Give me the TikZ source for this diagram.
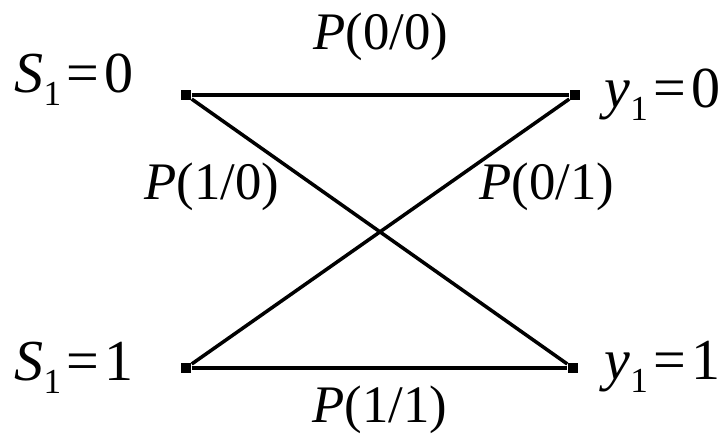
\documentclass[tikz,border=0pt]{standalone}
\usepackage{fontspec}
\setmainfont{Liberation Serif}
\newcommand{\sub}[1]{\raisebox{-0.5ex}{\fontsize{10}{10}\selectfont #1}}

\begin{document}
\begin{tikzpicture}[x=0.01cm,y=-0.01cm,dot/.style={rectangle,fill=black,minimum size=0.1cm,inner sep=0pt},state/.style={inner sep=0pt,font=\fontsize{16.5}{18}\selectfont},prob/.style={inner sep=0pt,font=\fontsize{15}{16}\selectfont},wire/.style={line width=1.4pt},cross/.style={line width=1pt}]
\useasboundingbox (0,0) rectangle (727,438);
\node[dot] (a0) at (186,95) {};\node[dot] (b0) at (575,95) {};
\node[dot] (a1) at (186,368) {};\node[dot] (b1) at (573,368) {};
\node[state,anchor=west] (s0) at (14,80) {\textit{S}\sub{1}\kern1.5pt=\kern1.5pt0};\node[state,anchor=east] (y0) at (721,95) {\textit{y}\sub{1}\kern1.5pt=\kern1.5pt0};
\node[state,anchor=west] (s1) at (14,368) {\textit{S}\sub{1}\kern1.5pt=\kern1.5pt1};\node[state,anchor=east] (y1) at (721,367) {\textit{y}\sub{1}\kern1.5pt=\kern1.5pt1};
\draw[wire] (a0) -- (b0);\draw[wire] (a1) -- (b1);
\draw[cross] (a0) -- (b1);\draw[cross] (a1) -- (b0);
\node[prob] (p00) at (381,37) {\textit{P}(0/0)};
\node[prob] (p10) at (212,187) {\textit{P}(1/0)};
\node[prob] (p01) at (547,187) {\textit{P}(0/1)};
\node[prob] (p11) at (380,410) {\textit{P}(1/1)};
\end{tikzpicture}
\end{document}
